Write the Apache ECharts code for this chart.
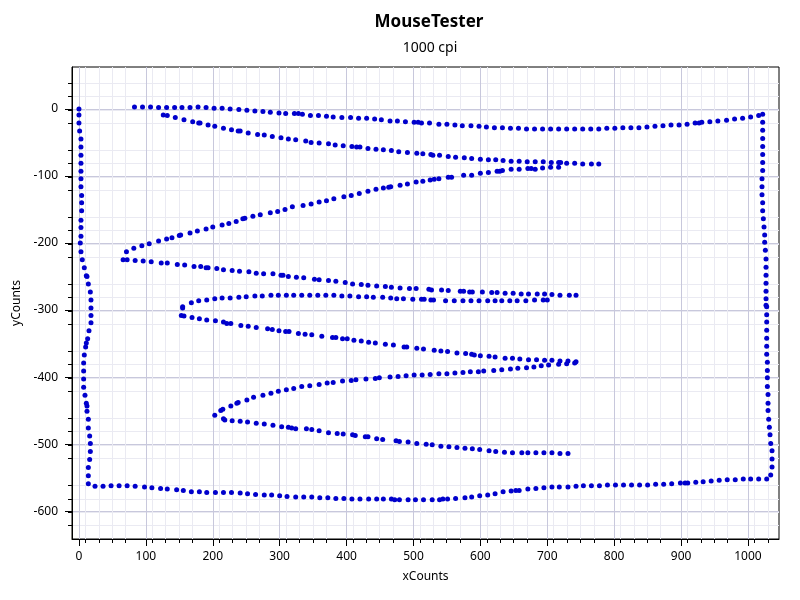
<!DOCTYPE html>
<html><head><meta charset="utf-8">
<script src="https://cdn.jsdelivr.net/npm/echarts@6/dist/echarts.min.js"></script>
<style>html,body{margin:0;padding:0;background:#fff}#c{width:800px;height:600px}</style>
</head><body><div id="c"></div>
<script>
const chartTitle = 'MouseTester';
const chartSubtitle = '1000 cpi';
const xName = 'xCounts';
const yName = 'yCounts';
const xTicks = [0,100,200,300,400,500,600,700,800,900,1000];
const yTicks = [-600,-500,-400,-300,-200,-100,0];

// left edge, top to bottom
const leftX = [0,0,0,1,3,3,3,3,3,3,3,4,4,4,3,3,3,2,3,5,8,11,12,14,17,18,18,18,18,15,13,11,10,8,7,7,7,7,9,11,12,12,14,14,16,17,17,16,14,14,14];
const leftY = [0,-9,-21,-33,-45,-57,-69,-81,-93,-104,-116,-129,-140,-152,-166,-177,-190,-200,-213,-225,-237,-249,-250,-261,-273,-285,-297,-308,-319,-331,-343,-349,-355,-367,-379,-391,-403,-415,-427,-439,-443,-451,-463,-476,-488,-499,-511,-523,-535,-547,-559];
// bottom edge, left to right
const bottomX = [24,36,48,60,72,84,98,109,122,132,146,156,168,180,191,204,216,228,241,252,264,277,288,300,311,324,336,
  348,360,372,384,396,408,420,433,445,455,467,472,479,492,503,515,528,539,544,551,563,577,587,599,611,622,634,646,653,658,671,683,695,707,718,
  731,743,754,766,778,790,802,814,826,838,850,862,874,886,899,906,910,922,933,945,957,969,981,993,1004,1016,1028,1034];
const bottomY = [-563,-563,-562,-562,-562,-563,-564,-565,-566,-567,-568,-569,-571,-571,-572,-572,-572,-572,-573,-574,-575,-576,-576,-577,-578,-579,-579,
  -579,-580,-580,-581,-581,-582,-582,-582,-582,-582,-582,-583,-583,-583,-583,-583,-583,-583,-582,-582,-581,-580,-579,-577,-576,-574,-571,-570,-569,-569,-567,-566,-565,-564,-564,
  -564,-563,-562,-562,-562,-561,-561,-561,-561,-561,-561,-560,-560,-559,-558,-558,-558,-557,-556,-555,-554,-553,-553,-552,-552,-552,-552,-546];
// right edge, bottom to top
const rightX = [1036,1036,1036,1034,1033,1032,1031,1030,1030,1030,1029,1029,1029,1029,1028,1028,1028,1028,1028,1028,1028,1027,1027,1027,1027,1027,1027,1027,1026,1025,1025,1024,1023,1022,1022,1021,1021,1021,1022,1022,1022,1022,1022,1022,1022,1022];
const rightY = [-534,-522,-510,-499,-486,-475,-463,-450,-439,-426,-414,-401,-390,-378,-366,-354,-342,-330,-318,-307,-295,-293,-283,-272,-260,-248,-236,-224,-211,-199,-188,-176,-164,-152,-140,-128,-116,-104,-92,-80,-68,-56,-44,-32,-20,-8];
// top edge, left to right
const topX = [83,95,107,119,131,143,154,166,178,190,202,214,226,239,251,263,275,286,299,309,322,328,334,346,358,
  370,380,393,406,418,430,442,452,465,476,488,501,507,512,524,538,550,562,573,586,598,609,621,633,645,657,669,681,693,705,717,
  729,741,753,765,777,789,801,813,825,837,849,861,873,885,897,909,921,927,931,943,955,968,980,992,1004,1016];
const topY = [3,3,3,2,2,2,2,2,3,2,1,1,0,-1,-2,-3,-4,-5,-6,-7,-7,-7,-8,-10,-10,
  -11,-12,-13,-13,-14,-14,-15,-16,-18,-18,-19,-20,-20,-21,-21,-23,-23,-24,-25,-25,-26,-27,-28,-28,-29,-29,-30,-30,-30,-30,-30,
  -30,-30,-30,-30,-30,-29,-29,-28,-28,-28,-27,-26,-25,-24,-24,-23,-21,-21,-20,-19,-18,-17,-15,-14,-12,-10];
// zig-zag passes
const pass1X = [126,132,144,157,170,179,181,193,203,216,228,238,241,253,267,277,289,302,313,324,339,347,359,
  373,383,395,408,415,420,432,444,455,467,478,491,505,514,526,529,539,552,563,576,587,600,612,623,634,646,658,670,682,694,706,717,
  720,729,741,753,766,777];
const pass1Y = [-9,-10,-13,-16,-19,-21,-21,-24,-26,-29,-31,-33,-33,-36,-38,-39,-41,-43,-45,-46,-48,-50,-51,
  -52,-54,-55,-56,-57,-57,-59,-60,-61,-62,-64,-65,-66,-67,-68,-69,-69,-71,-72,-73,-74,-75,-76,-76,-77,-78,-78,-79,-79,-79,-80,-80,
  -80,-81,-81,-82,-82,-82];
const pass2X = [717,705,693,682,676,671,658,646,633,629,625,612,600,587,575,557,552,538,531,525,514,504,491,480,466,463,455,444,432,419,407,396,381,370,359,347,335,
  319,308,297,286,271,260,248,245,235,224,214,200,190,177,166,152,150,139,131,119,105,94,82,71];
const pass2Y = [-87,-87,-88,-90,-89,-89,-90,-90,-92,-93,-93,-95,-96,-99,-99,-102,-102,-104,-105,-106,-108,-109,-112,-114,-116,-117,-118,-120,-123,-126,-129,-131,-134,-137,-139,-142,-144,
  -146,-150,-153,-155,-158,-160,-163,-164,-168,-171,-173,-176,-179,-182,-185,-188,-189,-192,-194,-197,-201,-204,-208,-213];
const pass3X = [66,72,84,96,108,123,132,147,158,172,182,190,193,206,216,229,240,254,265,276,290,302,305,313,325,336,352,359,
  373,384,398,409,422,432,445,458,467,480,494,504,523,527,542,552,570,575,584,588,603,617,625,637,649,661,672,685,696,707,719,
  733,743];
const pass3Y = [-225,-225,-226,-227,-228,-230,-230,-232,-233,-235,-235,-237,-237,-238,-240,-241,-242,-243,-245,-246,-246,-248,-248,-250,-251,-252,-254,-255,
  -256,-257,-259,-261,-262,-263,-264,-265,-266,-267,-268,-268,-269,-270,-270,-271,-272,-272,-273,-273,-273,-274,-274,-275,-275,-276,-276,-276,-276,-277,-278,
  -278,-278];
const pass4X = [700,694,681,668,655,644,632,622,611,598,586,574,561,548,530,526,516,512,499,485,475,466,454,440,430,418,405,393,381,369,357,345,333,
  321,310,298,287,274,263,250,239,226,214,203,191,179,168,155,155];
const pass4Y = [-285,-285,-285,-286,-286,-286,-286,-286,-286,-286,-286,-286,-286,-286,-285,-285,-284,-284,-284,-283,-283,-282,-281,-281,-280,-280,-279,-279,-278,-278,-278,-278,-278,
  -278,-278,-278,-278,-279,-279,-280,-281,-282,-282,-283,-285,-286,-289,-295,-297];
const pass5X = [153,157,169,180,191,204,216,221,227,242,253,265,282,289,299,309,314,328,338,348,
  363,379,384,394,401,411,422,433,443,458,470,486,490,505,515,531,541,551,565,578,587,591,600,613,622,637,648,659,672,684,696,707,
  719,731,743];
const pass5Y = [-308,-309,-311,-313,-315,-316,-318,-320,-320,-323,-324,-326,-328,-329,-331,-332,-332,-335,-336,-337,
  -339,-341,-341,-343,-343,-345,-346,-348,-349,-351,-352,-355,-355,-357,-358,-360,-361,-362,-364,-365,-366,-367,-368,-369,-370,-372,-372,-373,-374,-374,-375,-375,
  -376,-376,-377];
const pass6X = [741,729,717,702,691,680,669,656,645,632,620,605,597,585,574,562,550,538,525,513,501,489,477,465,449,443,429,414,407,394,380,371,359,345,333,
  321,310,298,287,275,261,251,238,236,227,215,212,203];
const pass6Y = [-379,-380,-381,-382,-383,-385,-386,-387,-388,-389,-390,-391,-392,-392,-393,-394,-395,-395,-396,-397,-397,-398,-399,-400,-401,-402,-403,-404,-405,-406,-408,-409,-411,-413,-414,
  -417,-419,-421,-424,-427,-430,-434,-438,-439,-443,-448,-450,-457];
const pass7X = [216,218,229,241,252,265,277,290,303,313,318,324,340,348,359,
  373,386,395,409,413,428,432,445,454,474,479,492,505,519,528,541,553,565,577,588,599,613,623,636,648,662,671,683,695,707,719,
  731];
const pass7Y = [-462,-464,-465,-466,-467,-469,-470,-472,-474,-475,-476,-477,-477,-478,-480,
  -483,-484,-485,-486,-487,-489,-489,-492,-493,-495,-496,-497,-499,-500,-501,-503,-504,-505,-506,-507,-508,-510,-511,-512,-513,-513,-513,-513,-513,-513,-514,
  -514];

const strokes = [[leftX,leftY],[bottomX,bottomY],[rightX,rightY],[topX,topY],[pass1X,pass1Y],[pass2X,pass2Y],[pass3X,pass3Y],[pass4X,pass4Y],[pass5X,pass5Y],[pass6X,pass6Y],[pass7X,pass7Y]];
const points = [];
strokes.forEach(([xs, ys]) => xs.forEach((x, i) => points.push([x, ys[i]])));

const FONT = "'Segoe UI','Noto Sans',sans-serif";
const majorGrid = '#c8c8dc';
const minorGrid = '#eaeaf2';

function axisCommon(ticks, margin) {
  return {
    type: 'value',
    interval: 100,
    nameLocation: 'middle',
    nameTextStyle: { fontSize: 12, color: '#000', fontFamily: FONT },
    axisLine: { show: true, onZero: false, lineStyle: { color: '#000', width: 1 } },
    axisTick: { show: true, inside: false, length: 7, lineStyle: { color: '#000' }, customValues: ticks },
    minorTick: { show: true, splitNumber: 5, length: 4, lineStyle: { color: '#000' } },
    axisLabel: { fontSize: 12, color: '#000', fontFamily: FONT, customValues: ticks, margin: margin,
      formatter: function (v) { return String(v); } },
    splitLine: { show: true, lineStyle: { color: majorGrid, width: 1 } },
    minorSplitLine: { show: true, lineStyle: { color: minorGrid, width: 1 } }
  };
}

const chart = echarts.init(document.getElementById('c'), null, { renderer: 'canvas' });
chart.setOption({
  animation: false,
  backgroundColor: '#fff',
  textStyle: { fontFamily: FONT },
  title: [
    { text: chartTitle, left: 424, top: 9, textAlign: 'center', textStyle: { fontSize: 17, fontWeight: 'bold', color: '#000', fontFamily: FONT } },
    { text: chartSubtitle, left: 425, top: 36, textAlign: 'center', textStyle: { fontSize: 14, fontWeight: 'normal', color: '#000', fontFamily: FONT } }
  ],
  grid: { left: 72, right: 21, top: 67, bottom: 61, containLabel: false, show: true, borderColor: '#000', borderWidth: 1, backgroundColor: 'transparent' },
  xAxis: Object.assign(axisCommon(xTicks, 12), { min: -10.4, max: 1046.4, name: xName, nameGap: 32 }),
  yAxis: Object.assign(axisCommon(yTicks, 14), { min: -641.5, max: 62.5, name: yName, nameGap: 42, nameRotate: 90 }),
  series: [{
    type: 'scatter',
    data: points,
    symbol: 'circle',
    symbolSize: 5,
    itemStyle: { color: '#0000cc', opacity: 1 },
    silent: true
  }]
});
</script></body></html>
